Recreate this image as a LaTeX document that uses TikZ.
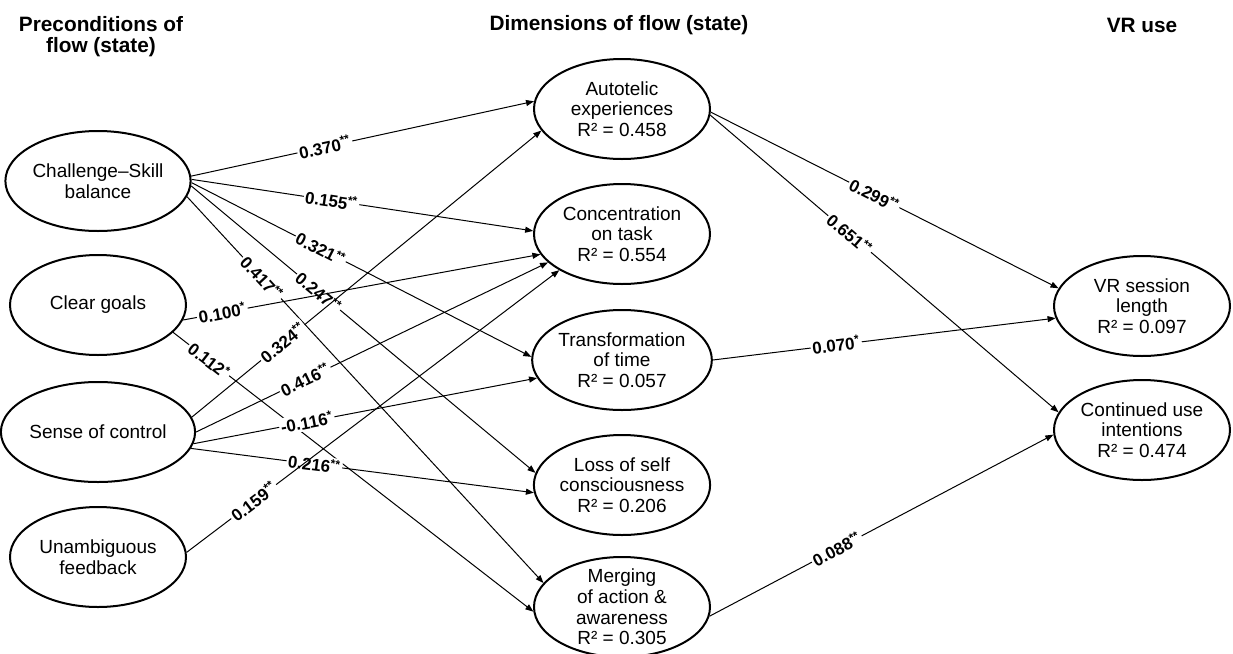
\documentclass[tikz,border=0pt]{standalone}
\usepackage{fontspec}
\setmainfont{Liberation Sans}
\usetikzlibrary{arrows.meta, positioning, shapes.geometric}

\begin{document}
\begin{tikzpicture}[x=0.5pt, y=-0.5pt,
        construct/.style={ellipse, draw, line width=1pt, minimum width=88pt, minimum height=50pt, inner sep=0pt, align=center, font=\fontsize{9.5}{10.3}\selectfont},
        heading/.style={align=center, font=\fontsize{10.4}{10.6}\selectfont\bfseries},
        arrow/.style={-{Triangle[length=4pt, width=3pt]}, line width=0.5pt},
        coef/.style={sloped, fill=white, inner sep=0.8pt, font=\fontsize{8.5}{9}\selectfont\bfseries}
    ]
    \useasboundingbox (0,0) rectangle (1233,654);

    % Ueberschriften
    \node[heading] (hpre) at (101,37) {Preconditions of\\flow (state)};
    \node[heading] (hdim) at (619,25) {Dimensions of flow (state)};
    \node[heading] (hvr) at (1142,25) {VR use};

    % Bedingungen
    \node[construct] (challenge) at (98,181) {Challenge–Skill\\balance};
    \node[construct] (goals) at (98,305) {Clear goals};
    \node[construct] (control) at (98,432) {Sense of control};
    \node[construct] (feedback) at (98,557) {Unambiguous\\feedback};

    % Dimensionen
    \node[construct] (autotelic) at (622,109) {Autotelic\\experiences\\R² = 0.458};
    \node[construct] (concentration) at (622,234) {Concentration\\on task\\R² = 0.554};
    \node[construct] (transformation) at (622,360) {Transformation\\of time\\R² = 0.057};
    \node[construct] (loss) at (622,485) {Loss of self\\consciousness\\R² = 0.206};
    \node[construct, inner ysep=-3pt] (merging) at (622,607) {Merging\\of action \&\\awareness\\R² = 0.305};

    % VR-Nutzung
    \node[construct] (session) at (1142,306) {VR session\\length\\R² = 0.097};
    \node[construct] (intentions) at (1142,430) {Continued use\\intentions\\R² = 0.474};

    % Pfade
    \draw[arrow] (challenge.3) -- node[coef, pos=0.39] {0.370\textsuperscript{**}} (autotelic.175);
    \draw[arrow] (challenge.1) -- node[coef, pos=0.41] {0.155\textsuperscript{**}} (concentration.178);
    \draw[arrow] (challenge.-1) -- node[coef, pos=0.38] {0.321\textsuperscript{**}} (transformation.178);
    \draw[arrow] (challenge.-3) -- node[coef, pos=0.37] {0.247\textsuperscript{**}} (loss.172);
    \draw[arrow] (challenge.-10) -- node[coef, pos=0.21] {0.417\textsuperscript{**}} (merging.163);
    \draw[arrow] (goals.-10) -- node[coef, pos=0.11] {0.100\textsuperscript{*}} (concentration.194);
    \draw[arrow] (goals.-20) -- node[coef, pos=0.10] {0.112\textsuperscript{*}} (merging.183);
    \draw[arrow] (control.9) -- node[coef, pos=0.26] {0.324\textsuperscript{**}} (autotelic.195);
    \draw[arrow] (control.0) -- node[coef, pos=0.31] {0.416\textsuperscript{**}} (concentration.201);
    \draw[arrow] (control.-7) -- node[coef, pos=0.33] {-0.116\textsuperscript{*}} (transformation.192);
    \draw[arrow] (control.-10) -- node[coef, pos=0.36] {0.216\textsuperscript{**}} (loss.185);
    \draw[arrow] (feedback.3) -- node[coef, pos=0.18] {0.159\textsuperscript{**}} (concentration.210);
    \draw[arrow] (autotelic.-2) -- node[coef, pos=0.47] {0.299\textsuperscript{**}} (session.168);
    \draw[arrow] (autotelic.-4) -- node[coef, pos=0.40] {0.651\textsuperscript{**}} (intentions.168);
    \draw[arrow] (transformation.0) -- node[coef, pos=0.36] {0.070\textsuperscript{*}} (session.188);
    \draw[arrow] (merging.-6) -- node[coef, pos=0.37] {0.088\textsuperscript{**}} (intentions.183);

\end{tikzpicture}
\end{document}
